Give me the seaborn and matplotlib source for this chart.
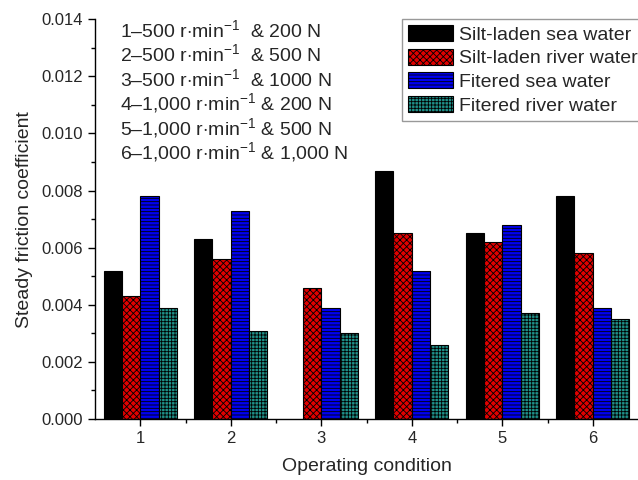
import numpy as np
import pandas as pd
import matplotlib
matplotlib.use("Agg")
import matplotlib.pyplot as plt
import seaborn as sns

conditions = ["1", "2", "3", "4", "5", "6"]
series = ["Silt-laden sea water", "Silt-laden river water", "Fitered sea water", "Fitered river water"]
silt_sea = [0.0052, 0.0063, np.nan, 0.0087, 0.0065, 0.0078]
silt_river = [0.0043, 0.0056, 0.0046, 0.0065, 0.0062, 0.0058]
filt_sea = [0.0078, 0.0073, 0.0039, 0.0052, 0.0068, 0.0039]
filt_river = [0.0039, 0.0031, 0.0030, 0.0026, 0.0037, 0.0035]
notes = [
    r"1–500 r$\cdot$min$^{-1}$  & 200 N",
    r"2–500 r$\cdot$min$^{-1}$  & 500 N",
    r"3–500 r$\cdot$min$^{-1}$  & 1000 N",
    r"4–1,000 r$\cdot$min$^{-1}$ & 200 N",
    r"5–1,000 r$\cdot$min$^{-1}$ & 500 N",
    r"6–1,000 r$\cdot$min$^{-1}$ & 1,000 N",
]

colors = ["#000000", "#e00000", "#0000f0", "#1f9088"]
hatches = [None, "xxxxx", "-----", "+++++"]

sns.set_style("ticks")
plt.rcParams["font.family"] = ["Liberation Sans", "DejaVu Sans"]
plt.rcParams["mathtext.fontset"] = "custom"
plt.rcParams["mathtext.rm"] = "Liberation Sans"
plt.rcParams["mathtext.it"] = "Liberation Sans:italic"
plt.rcParams["hatch.linewidth"] = 0.6
plt.rcParams["hatch.color"] = "black"

rows = []
for s, vals in zip(series, [silt_sea, silt_river, filt_sea, filt_river]):
    for c, v in zip(conditions, vals):
        rows.append({"cond": c, "series": s, "val": v})
df = pd.DataFrame(rows)

fig = plt.figure(figsize=(6.38, 4.8), dpi=100)
ax = fig.add_axes([0.149, 0.127, 0.851, 0.833])
sns.barplot(data=df, x="cond", y="val", hue="series", hue_order=series,
            order=conditions, palette=colors, width=0.81, ax=ax,
            edgecolor="black", linewidth=0.8, legend=False, saturation=1)

for cont, h in zip(ax.containers, hatches):
    for p in cont.patches:
        if h:
            p.set_hatch(h)

ax.set_xlim(-0.5, 5.5)
ax.set_ylim(0, 0.014)
ax.set_yticks(np.arange(0, 0.0141, 0.002))
ax.set_yticklabels([f"{v:.3f}" for v in np.arange(0, 0.0141, 0.002)])
ax.set_yticks(np.arange(0.001, 0.014, 0.002), minor=True)
ax.set_xticks(np.arange(0.5, 5.0, 1.0), minor=True)
ax.tick_params(axis="both", which="major", direction="out", length=5, width=1, labelsize=12, color="black")
ax.tick_params(axis="both", which="minor", direction="out", length=3, width=1, color="black")
sns.despine(ax=ax)
for sp in ["left", "bottom"]:
    ax.spines[sp].set_color("black")
    ax.spines[sp].set_linewidth(1)

ax.set_xlabel("Operating condition", fontsize=14, labelpad=9)
ax.set_ylabel("Steady friction coefficient", fontsize=14, labelpad=6)

for i, line in enumerate(notes):
    y_px = 36.7 + 24.4 * i
    ax.text(0.046, 1 - (y_px - 19) / 400, line, transform=ax.transAxes,
            fontsize=14, va="baseline", ha="left")

handles = [cont.patches[0] for cont in ax.containers]
leg = ax.legend(handles, series, loc="upper right", bbox_to_anchor=(1.01, 1.0),
                fontsize=14, frameon=True, fancybox=False, edgecolor="#808080",
                handlelength=2.3, handleheight=0.9, handletextpad=0.3,
                labelspacing=0.25, borderpad=0.3, borderaxespad=0.0)
leg.get_frame().set_linewidth(1)

fig.savefig("out.png", dpi=100)
